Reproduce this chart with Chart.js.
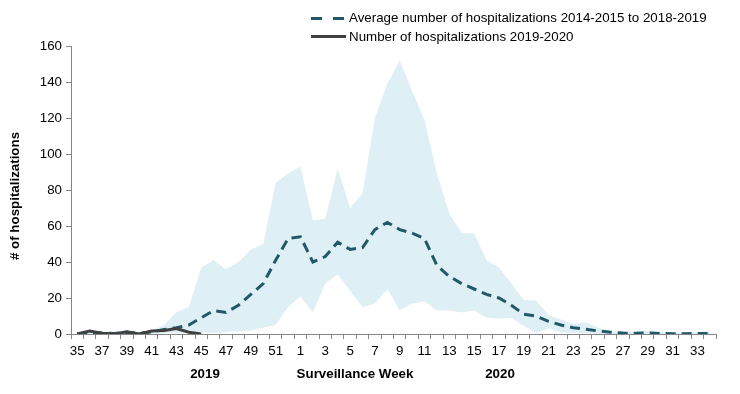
<!DOCTYPE html>
<html>
<head>
<meta charset="utf-8">
<script src="https://cdn.jsdelivr.net/npm/chart.js@4"></script>
<style>
  body { margin: 0; background: #fff; }
  #wrap { position: relative; width: 740px; height: 394px; font-family: "Liberation Sans", Arial, sans-serif; }
  .leg { position: absolute; left: 349px; font-size: 13.33px; color: #000; white-space: nowrap; line-height: 16px; }
  .sw { position: absolute; height: 3px; }
</style>
</head>
<body>
<div id="wrap">
  <canvas id="chart" width="740" height="394"></canvas>
  <div class="sw" style="left:311px; top:17px; width:11px; background:#215a66;"></div>
  <div class="sw" style="left:333px; top:17px; width:11px; background:#215a66;"></div>
  <div class="leg" style="top:10px;">Average number of hospitalizations 2014-2015 to 2018-2019</div>
  <div class="sw" style="left:311px; top:35px; width:35px; background:#404040;"></div>
  <div class="leg" style="top:29px;">Number of hospitalizations 2019-2020</div>
</div>
<script>
// surveillance weeks, 35 (2019) through 34 (2020)
const weeks = ['35','36','37','38','39','40','41','42','43','44','45','46','47','48','49','50','51','52',
  '1','2','3','4','5','6','7','8','9','10','11','12','13','14','15','16','17','18','19','20',
  '21','22','23','24','25','26','27','28','29','30','31','32','33','34'];

// 5-season average
const avgValues = [0, 1, 0.5, 0.3, 1, 0.3, 1.2, 2.5, 3.5, 5, 9, 13, 12, 16, 22, 28, 41, 53,
  54, 40, 43, 51, 47, 48, 58, 62, 58, 56, 53, 38, 32, 28, 25, 22, 20, 16, 11, 10,
  7, 5, 3.5, 2.6, 1.7, 1, 0.5, 0.4, 0.6, 0.3, 0.2, 0.2, 0.3, 0.3];

// max / min range of previous seasons
const upperValues = [1, 1.5, 1, 1, 1.5, 1, 2, 5, 12, 15, 37, 41, 36, 40, 47, 50, 84, 89,
  93, 63, 64, 92, 70, 78, 120, 139, 152, 135, 119, 89, 67, 56, 56, 41, 37, 28, 19, 18.5,
  10.5, 8, 5.5, 6.5, 3.5, 1.7, 1.3, 1.3, 2, 1.3, 0.5, 0.8, 1, 1.7];
const lowerValues = [0, 0, 0, 0, 0, 0, 0, 0.5, 0.5, 1, 1, 0.5, 1, 1.5, 2, 3.5, 5, 15,
  21, 12, 28, 33, 24, 15, 17, 25, 13, 17, 18, 13, 13, 12, 13, 9, 8.5, 9, 4.5, 0.5,
  3, 1, 0.5, 0.5, 0, 0, 0, 0, 0, 0, 0, 0, 0, 0];

// current season so far
const currentValues = [0, 1.7, 0.4, 0, 1.3, 0, 1.7, 2, 3, 1, 0];

const yTicks = [0, 20, 40, 60, 80, 100, 120, 140, 160];

const FONT = { family: '"Liberation Sans", Arial, sans-serif', size: 13.33 };

// axis titles and year markers, placed like the original
const axisText = {
  id: 'axisText',
  afterDraw(chart) {
    const c = chart.ctx;
    c.save();
    c.font = 'bold 13.33px "Liberation Sans", Arial, sans-serif';
    c.fillStyle = '#000';
    c.textAlign = 'center';
    c.textBaseline = 'middle';
    c.fillText('2019', 205, 374);
    c.fillText('Surveillance Week', 355, 374);
    c.fillText('2020', 500, 374);
    c.translate(15, 196);
    c.rotate(-Math.PI / 2);
    c.fillText('# of hospitalizations', 0, 0);
    c.restore();
  }
};

const ctx = document.getElementById('chart').getContext('2d');
const chart = new Chart(ctx, {
  type: 'line',
  data: {
    labels: weeks,
    datasets: [
      {
        label: 'Number of hospitalizations 2019-2020',
        data: currentValues,
        borderColor: '#404040',
        borderWidth: 3,
        pointRadius: 0,
        tension: 0,
        fill: false,
        order: 0
      },
      {
        label: 'Average number of hospitalizations 2014-2015 to 2018-2019',
        data: avgValues,
        borderColor: '#215a66',
        borderWidth: 3,
        borderDash: [10, 6],
        pointRadius: 0,
        tension: 0,
        fill: false,
        order: 1
      },
      {
        label: 'max',
        data: upperValues,
        borderWidth: 0,
        borderColor: 'rgba(0,0,0,0)',
        backgroundColor: '#dfeff6',
        pointRadius: 0,
        tension: 0,
        fill: '+1',
        order: 2
      },
      {
        label: 'min',
        data: lowerValues,
        borderWidth: 0,
        borderColor: 'rgba(0,0,0,0)',
        pointRadius: 0,
        tension: 0,
        fill: false,
        order: 3
      }
    ]
  },
  options: {
    responsive: false,
    animation: false,
    layout: { padding: { top: 46, right: 24, bottom: 0, left: 0 } },
    plugins: {
      legend: { display: false },
      tooltip: { enabled: false }
    },
    scales: {
      x: {
        offset: true,
        grid: { offset: true, drawOnChartArea: false, tickLength: 5, color: '#868686' },
        border: { color: '#868686' },
        ticks: {
          autoSkip: false,
          maxRotation: 0,
          minRotation: 0,
          padding: 4,
          color: '#000',
          font: FONT,
          callback: (v, i) => (i % 2 === 0 ? weeks[i] : '')
        },
        afterFit: (s) => { s.height = 60; }
      },
      y: {
        min: 0,
        max: 160,
        afterBuildTicks: (s) => { s.ticks = yTicks.map(v => ({ value: v })); },
        grid: { drawOnChartArea: false, tickLength: 5, color: '#868686' },
        border: { color: '#868686' },
        ticks: { padding: 4, color: '#000', font: FONT },
        afterFit: (s) => { s.width = 71; }
      }
    }
  },
  plugins: [axisText]
});
</script>
</body>
</html>
